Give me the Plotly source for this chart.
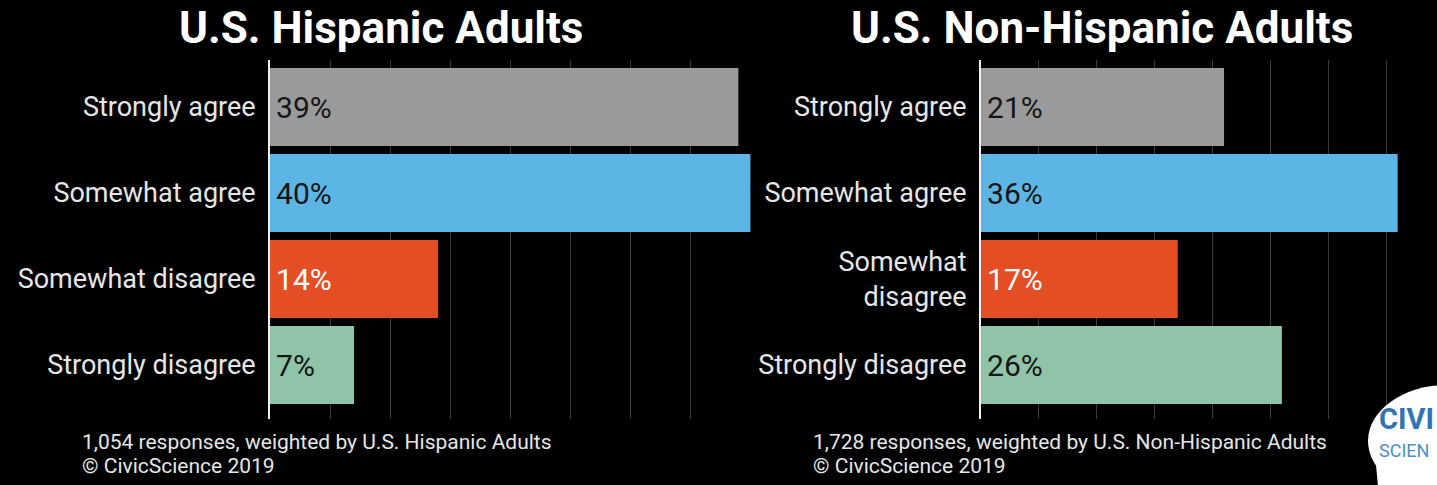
import plotly.graph_objects as go

categories = ["Strongly agree", "Somewhat agree", "Somewhat disagree", "Strongly disagree"]
right_tick_labels = ["Strongly agree", "Somewhat agree", "Somewhat<br>disagree", "Strongly disagree"]
hispanic_values = [39, 40, 14, 7]
non_hispanic_values = [21, 36, 17, 26]
bar_colors = ["#9a9a9a", "#5db5e5", "#e44e25", "#8fc4a8"]
text_colors = ["#161616", "#161616", "#ffffff", "#161616"]
titles = ["U.S. Hispanic Adults", "U.S. Non-Hispanic Adults"]
footnotes = ["1,054 responses, weighted by U.S. Hispanic Adults",
             "1,728 responses, weighted by U.S. Non-Hispanic Adults"]
copyright_text = "© CivicScience 2019"

W, H = 1437, 485
def px(x): return x / W
def py(y): return 1 - y / H

FONT = "Roboto"
fig = go.Figure()

for i, vals in enumerate([hispanic_values, non_hispanic_values]):
    fig.add_trace(go.Bar(
        x=vals, y=categories, orientation="h",
        marker=dict(color=bar_colors, line=dict(width=0)),
        text=[f"\u200a{v}%" for v in vals],
        textposition="inside", insidetextanchor="start",
        textfont=dict(family=FONT, size=30, color=text_colors),
        constraintext="none",
        xaxis="x" if i == 0 else "x2", yaxis="y" if i == 0 else "y2",
        showlegend=False, hoverinfo="skip",
    ))

ydom = [py(419), py(60)]
yrange = [3.628, -0.547]
common_x = dict(showgrid=True, gridcolor="#3c3c3c", gridwidth=1, dtick=5,
                showticklabels=False, ticks="", zeroline=False, showline=False)
common_y = dict(type="category", range=yrange, showgrid=False, ticks="",
                showline=True, linecolor="#f0f0f0", linewidth=2,
                tickfont=dict(family=FONT, size=27, color="#e6e6e6"),
                ticklabelstandoff=7)

fig.update_layout(
    width=W, height=H,
    paper_bgcolor="#000000", plot_bgcolor="#000000",
    margin=dict(l=0, r=0, t=0, b=0),
    bargap=0.093,
    xaxis=dict(domain=[px(270), px(751)], range=[0, 40.05], **common_x),
    xaxis2=dict(domain=[px(981), 1.0], range=[0, 39.4], **common_x),
    yaxis=dict(domain=ydom, anchor="x", **common_y),
    yaxis2=dict(domain=ydom, anchor="x2", tickmode="array", tickvals=categories,
                ticktext=right_tick_labels, **common_y),
)

ann = []
for t, cx in zip(titles, [381, 1102]):
    ann.append(dict(text=t, x=px(cx), y=py(28), xref="paper", yref="paper",
                    xanchor="center", yanchor="middle", showarrow=False,
                    font=dict(family=FONT, size=44, color="#ffffff", weight="bold")))
for f, lx in zip(footnotes, [80, 811]):
    ann.append(dict(text=f, x=px(lx), y=py(442), xref="paper", yref="paper",
                    xanchor="left", yanchor="middle", showarrow=False,
                    font=dict(family=FONT, size=21, color="#e6e6e6")))
    ann.append(dict(text=copyright_text, x=px(lx), y=py(466), xref="paper", yref="paper",
                    xanchor="left", yanchor="middle", showarrow=False,
                    font=dict(family=FONT, size=21, color="#e6e6e6")))

# logo bubble
shapes = [
    dict(type="circle", xref="paper", yref="paper", x0=px(1368), x1=px(1526),
         y0=py(497), y1=py(385), fillcolor="#ffffff", line=dict(width=0), layer="above"),
    dict(type="path", xref="paper", yref="paper",
         path=f"M {px(1376)} {py(465)} L {px(1378)} {py(486)} L {px(1402)} {py(486)} Z",
         fillcolor="#ffffff", line=dict(width=0), layer="above"),
]
ann.append(dict(text="<b>CIVI</b>", x=px(1377), y=py(419), xref="paper", yref="paper",
                xanchor="left", yanchor="middle", showarrow=False,
                font=dict(family=FONT, size=29, color="#2f75b5")))
ann.append(dict(text="SCIEN", x=px(1377), y=py(450), xref="paper", yref="paper",
                xanchor="left", yanchor="middle", showarrow=False,
                font=dict(family=FONT, size=18, color="#4b8fc8")))
fig.update_layout(annotations=ann, shapes=shapes)

fig.write_html("out.html", config={"displayModeBar": False},
               post_script="document.body.style.margin='0';document.body.style.background='#000';")
